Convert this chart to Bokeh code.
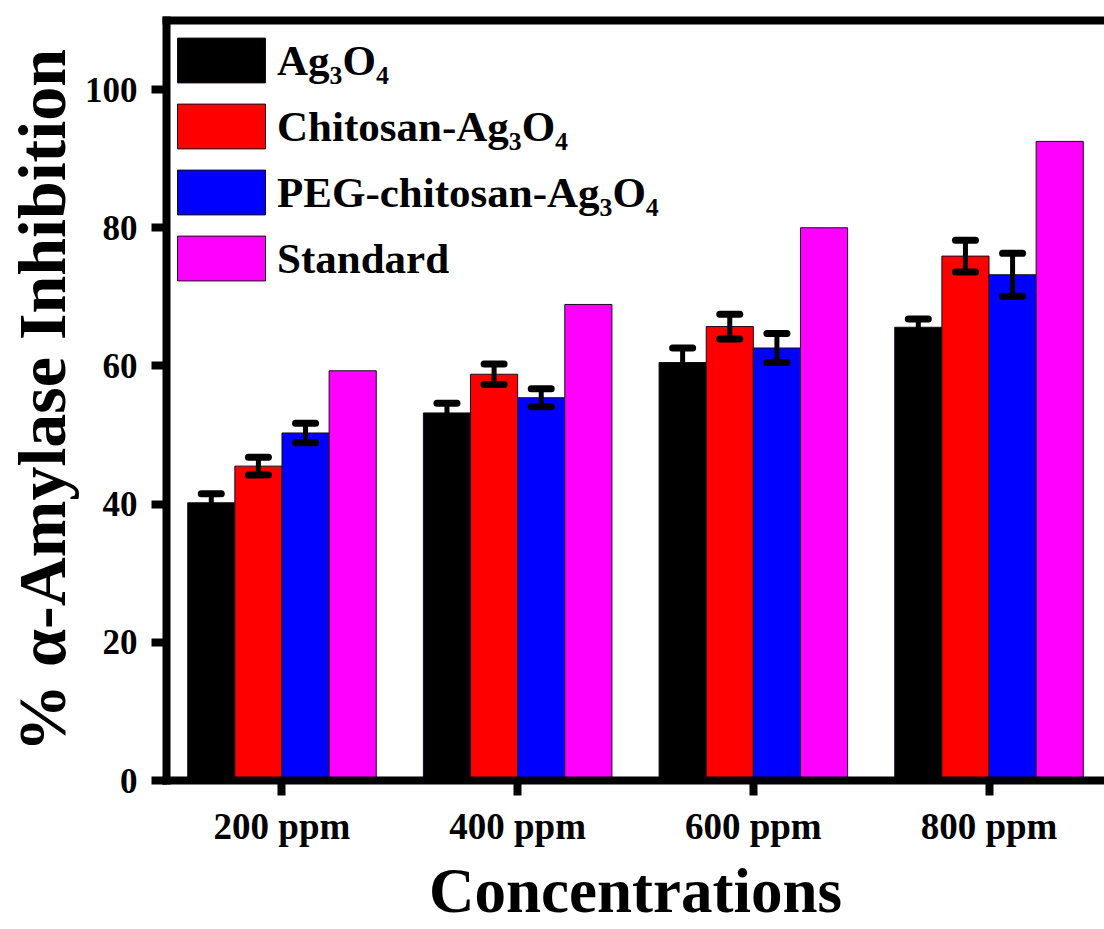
import numpy as np
from bokeh.plotting import figure
from bokeh.models import (ColumnDataSource, Whisker, TeeHead, FixedTicker, Legend,
                          LegendItem, LinearAxis, Range1d)
from bokeh.embed import file_html
from bokeh.resources import INLINE

categories = ["200 ppm", "400 ppm", "600 ppm", "800 ppm"]
series_names = ["Ag₃O₄", "Chitosan-Ag₃O₄", "PEG-chitosan-Ag₃O₄", "Standard"]
series_colors = ["#000000", "#ff0000", "#0000ff", "#ff00ff"]

ag3o4 = [40.2, 53.2, 60.5, 65.6]
ag3o4_err = [1.3, 1.4, 2.1, 1.2]
chitosan_ag3o4 = [45.5, 58.8, 65.7, 75.9]
chitosan_ag3o4_err = [1.3, 1.5, 1.8, 2.3]
peg_chitosan_ag3o4 = [50.3, 55.4, 62.6, 73.2]
peg_chitosan_ag3o4_err = [1.4, 1.3, 2.1, 3.1]
standard = [59.3, 68.9, 80.0, 92.5]

y_ticks = [0, 20, 40, 60, 80, 100]

values = [ag3o4, chitosan_ag3o4, peg_chitosan_ag3o4, standard]
errors = [ag3o4_err, chitosan_ag3o4_err, peg_chitosan_ag3o4_err, None]

FONT = "Liberation Serif"

p = figure(frame_width=938, frame_height=760,
           min_border_left=166, min_border_right=0, min_border_top=20, min_border_bottom=20,
           x_range=Range1d(0.51, 4.49), y_range=Range1d(0, 110),
           output_backend="svg", toolbar_location=None, tools="")
p.outline_line_color = None
p.xgrid.grid_line_color = None
p.ygrid.grid_line_color = None
p.background_fill_color = "white"
p.border_fill_color = "white"

base_x = np.arange(1, len(categories) + 1)
bar_w = 0.2
offsets = [-1.5 * bar_w, -0.5 * bar_w, 0.5 * bar_w, 1.5 * bar_w]

items = []
for name, color, vals, errs, off in zip(series_names, series_colors, values, errors, offsets):
    xs = base_x + off
    src = ColumnDataSource(dict(x=xs, top=vals))
    r = p.vbar(x="x", top="top", width=bar_w, bottom=0, source=src,
               fill_color=color, line_color="#1a0a1a", line_width=1)
    items.append(LegendItem(label=name, renderers=[r]))
    if errs is not None:
        esrc = ColumnDataSource(dict(x=xs,
                                     upper=[v + e for v, e in zip(vals, errs)],
                                     lower=[v - e for v, e in zip(vals, errs)]))
        w = Whisker(base="x", upper="upper", lower="lower", source=esrc,
                    line_color="black", line_width=5,
                    upper_head=TeeHead(size=20, line_width=7, line_color="black", line_cap="round"),
                    lower_head=TeeHead(size=20, line_width=7, line_color="black", line_cap="round"),
                    level="annotation")
        p.add_layout(w)

legend = Legend(items=items, location=(0, 494), glyph_width=110, glyph_height=56,
                spacing=10, padding=3, margin=0, label_standoff=1,
                label_text_font=FONT, label_text_font_style="bold",
                label_text_font_size="43px", label_text_color="black",
                border_line_color=None, background_fill_alpha=0)
p.add_layout(legend)

p.xaxis.ticker = FixedTicker(ticks=list(base_x))
p.xaxis.major_label_overrides = {int(i): c for i, c in zip(base_x, categories)}
p.yaxis.ticker = FixedTicker(ticks=y_ticks)

for ax in (p.xaxis[0], p.yaxis[0]):
    ax.axis_line_width = 8
    ax.axis_line_color = "black"
    ax.axis_line_cap = "square"
    ax.major_tick_line_width = 8
    ax.major_tick_line_color = "black"
    ax.major_tick_out = 15
    ax.major_tick_in = 0
    ax.minor_tick_line_color = None
    ax.major_label_text_font = FONT
    ax.major_label_text_font_style = "bold"
    ax.major_label_text_color = "black"

p.xaxis.major_label_text_font_size = "37px"
p.yaxis.major_label_text_font_size = "35px"
p.xaxis.major_label_standoff = 10
p.yaxis.major_label_standoff = 14

p.yaxis.axis_label = "% α-Amylase Inhibition"
p.yaxis.axis_label_text_font = FONT
p.yaxis.axis_label_text_font_style = "bold"
p.yaxis.axis_label_text_font_size = "68px"
p.yaxis.axis_label_text_color = "black"
p.yaxis.axis_label_standoff = 2

p.xaxis.axis_label = "Concentrations"
p.xaxis.axis_label_text_font = FONT
p.xaxis.axis_label_text_font_style = "bold"
p.xaxis.axis_label_text_font_size = "63px"
p.xaxis.axis_label_text_color = "black"
p.xaxis.axis_label_standoff = 6

top_axis = LinearAxis(ticker=FixedTicker(ticks=[]), axis_line_width=8, axis_line_color="black",
                      axis_line_cap="square",
                      major_tick_line_color=None, minor_tick_line_color=None,
                      major_label_text_font_size="0px")
p.add_layout(top_axis, "above")

open("out.html", "w").write(file_html(p, INLINE))
